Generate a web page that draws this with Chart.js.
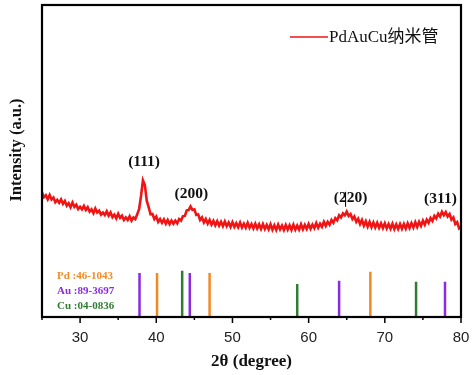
<!DOCTYPE html>
<html><head><meta charset="utf-8">
<script src="https://cdn.jsdelivr.net/npm/chart.js@4.4.1/dist/chart.umd.min.js"></script>
<style>html,body{margin:0;padding:0;background:#fff}#wrap{width:474px;height:375px}</style>
</head><body><div id="wrap"><canvas id="c" width="474" height="375"></canvas></div>
<script>
// XRD pattern of PdAuCu nanotubes, 2θ from 25° to 80° sampled every 0.25°
const thetaStart = 25, thetaStep = 0.25;
const intensity = [
39.9,38.4,39.0,37.7,39.1,37.7,38.3,36.8,37.5,36.6,37.7,36.3,37.2,35.7,36.5,35.2,36.7,35.3,36.0,34.6,
35.3,34.5,35.6,34.3,35.2,33.8,34.5,33.3,34.8,33.5,34.1,32.8,33.5,32.7,33.9,32.5,33.5,32.0,32.8,31.6,
33.1,31.8,32.5,31.1,31.9,31.1,32.3,30.9,31.9,31.4,32.9,34.6,38.8,43.8,42.3,37.3,35.2,32.9,33.0,31.4,
32.2,30.5,31.4,30.2,31.3,29.9,31.1,29.8,30.9,29.9,30.9,30.0,31.4,30.9,32.3,32.4,34.2,34.3,35.4,34.3,
34.5,32.7,32.9,31.1,31.9,30.3,31.4,29.9,31.1,29.6,30.8,29.4,30.7,29.3,30.5,29.1,30.6,29.1,30.3,28.9,
30.4,28.9,30.1,28.8,30.3,28.7,29.9,28.6,30.2,28.6,29.8,28.4,29.9,28.4,29.7,28.2,29.8,28.2,29.5,28.1,
29.7,28.0,29.4,27.9,29.6,28.1,29.3,27.9,29.5,28.0,29.4,27.9,29.6,28.0,29.3,28.0,29.7,28.1,29.5,28.2,
29.8,28.3,29.6,28.5,30.1,28.6,29.9,28.9,30.5,29.2,30.5,29.6,31.1,30.2,31.7,31.0,32.6,31.9,33.2,32.6,
33.8,32.4,33.0,31.4,32.2,30.5,31.5,29.8,31.1,29.3,30.7,29.0,30.5,28.8,30.3,28.7,30.2,28.6,30.0,28.5,
30.0,28.4,29.8,28.3,29.9,28.2,29.7,28.2,29.8,28.3,29.8,28.3,30.0,28.5,30.1,28.7,30.4,28.9,30.5,29.2,
30.9,29.6,31.2,30.2,31.7,30.8,32.4,31.6,33.1,32.2,33.7,32.6,33.6,32.2,33.0,31.2,31.9,29.8,30.4,28.4,
28.7];
const twoTheta = intensity.map((_, i) => thetaStart + i * thetaStep);

// Standard reference patterns (JCPDS) – positions and stick heights
const pdPos = [40.1, 47.0, 68.1];       const pdH = [14.1, 14.1, 14.5];
const auPos = [37.8, 44.4, 64.0, 77.9]; const auH = [14.1, 14.1, 11.6, 11.3];
const cuPos = [43.4, 58.5, 74.1];       const cuH = [14.8, 10.6, 11.3];

const peakLabels = ['(111)', '(200)', '(220)', '(311)'];
const peakLabelX = [38.4, 44.6, 65.5, 77.3];
const peakLabelY = [49.8, 39.4, 38.2, 37.9];

const refNames = ['Pd :46-1043', 'Au :89-3697', 'Cu :04-0836'];
const seriesName = 'PdAuCu纳米管';

const C_PD = '#f28a24', C_AU = '#8a2be2', C_CU = '#2e7d32', C_RED = '#f01414';

function sticks(pos, h) {
  const out = [];
  pos.forEach((p, i) => { out.push({x: p, y: 0}, {x: p, y: h[i]}, {x: p, y: null}); });
  return out;
}

const serif = '"Liberation Serif", "Times New Roman", serif';

const decor = {
  id: 'decor',
  afterDraw(chart) {
    const {ctx, chartArea: a, scales: {x, y}} = chart;
    ctx.save();
    ctx.strokeStyle = '#000'; ctx.lineWidth = 1.5;
    for (let v = 25; v <= 80; v += 5) {
      const px = x.getPixelForValue(v);
      const len = v % 10 === 0 ? 6 : 3;
      ctx.beginPath(); ctx.moveTo(px, a.bottom); ctx.lineTo(px, a.bottom + len); ctx.stroke();
    }
    ctx.lineWidth = 2.2;
    ctx.strokeRect(a.left, a.top, a.right - a.left, a.bottom - a.top);
    ctx.fillStyle = '#111';
    ctx.font = 'bold 15.5px ' + serif;
    ctx.textAlign = 'center'; ctx.textBaseline = 'middle';
    peakLabels.forEach((t, i) => ctx.fillText(t, x.getPixelForValue(peakLabelX[i]), y.getPixelForValue(peakLabelY[i])));
    const cx = x.getPixelForValue(64.85), cy = y.getPixelForValue(38.2);
    ctx.lineWidth = 1; ctx.beginPath(); ctx.moveTo(cx, cy - 6); ctx.lineTo(cx, cy + 9); ctx.stroke();
    ctx.font = 'bold 11px ' + serif; ctx.textAlign = 'left';
    const cols = [C_PD, C_AU, C_CU];
    refNames.forEach((t, i) => { ctx.fillStyle = cols[i]; ctx.fillText(t, a.left + 15, 276 + i * 15); });
    ctx.strokeStyle = C_RED; ctx.lineWidth = 1.5;
    ctx.beginPath(); ctx.moveTo(290, 37); ctx.lineTo(328, 37); ctx.stroke();
    ctx.fillStyle = '#111'; ctx.font = '17px ' + serif + ', "Noto Sans CJK SC"';
    ctx.fillText(seriesName, 329, 38);
    ctx.translate(17, 150); ctx.rotate(-Math.PI / 2);
    ctx.textAlign = 'center'; ctx.font = 'bold 16.5px ' + serif;
    ctx.fillText('Intensity (a.u.)', 0, 0);
    ctx.restore();
  }
};

new Chart(document.getElementById('c'), {
  type: 'line',
  data: {
    datasets: [
      {label: seriesName, data: twoTheta.map((t, i) => ({x: t, y: intensity[i]})), borderColor: C_RED, borderWidth: 2.6, pointRadius: 0, tension: 0},
      {label: 'Pd', data: sticks(pdPos, pdH), borderColor: C_PD, borderWidth: 2.5, pointRadius: 0, spanGaps: false},
      {label: 'Au', data: sticks(auPos, auH), borderColor: C_AU, borderWidth: 2.5, pointRadius: 0, spanGaps: false},
      {label: 'Cu', data: sticks(cuPos, cuH), borderColor: C_CU, borderWidth: 2.5, pointRadius: 0, spanGaps: false}
    ]
  },
  options: {
    responsive: false, animation: false, devicePixelRatio: 1,
    layout: {padding: {left: 42, right: 13, top: 5, bottom: 0}},
    plugins: {legend: {display: false}, tooltip: {enabled: false}},
    scales: {
      x: {
        type: 'linear', min: 25, max: 80,
        afterFit(s) { s.height = 58; s.paddingRight = 0; s.paddingLeft = 0; },
        grid: {display: false, drawTicks: false},
        border: {display: false},
        ticks: {stepSize: 5, padding: 12, color: '#222', font: {family: '"Liberation Sans", Arial, sans-serif', size: 15},
          callback: v => (v % 10 === 0 ? String(v) : '')},
        title: {display: true, text: '2θ (degree)', color: '#111', font: {family: serif, size: 17, weight: 'bold'}, padding: {top: 0, bottom: 3}}
      },
      y: {display: false, min: 0, max: 100}
    }
  },
  plugins: [decor]
});
</script></body></html>
